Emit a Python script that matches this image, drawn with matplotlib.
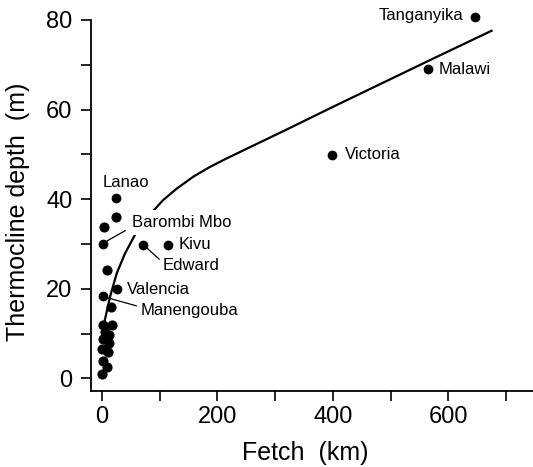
import matplotlib.pyplot as plt

plt.rcParams['font.family'] = ['Liberation Sans', 'DejaVu Sans']

# small unnamed lakes (fetch km, thermocline depth m)
fetch_km = [0, 9, 1, 0, 11, 12, 2, 12, 5, 2, 17, 16, 9, 3, 25]
depth_m = [1, 2.5, 3.8, 6.5, 5.8, 8, 8.8, 9.8, 10.4, 12, 12, 16, 24.3, 33.8, 36.1]

# named lakes
lake_names = ['Tanganyika', 'Malawi', 'Victoria', 'Kivu', 'Edward',
              'Lanao', 'Barombi Mbo', 'Valencia', 'Manengouba']
lake_fetch = [646, 564, 398, 114, 72, 24, 1, 26, 1]
lake_depth = [80.7, 69, 49.9, 29.8, 29.8, 40.3, 30.1, 19.9, 18.3]

# fitted relation
curve_fetch = [3, 5, 14, 25.5, 40, 60, 75, 89, 106, 129, 158, 187, 216,
               245, 274, 308, 343, 400, 458, 574, 675]
curve_depth = [8.5, 13, 18.2, 23.4, 27.9, 32.7, 35.3, 37.4, 39.8, 42.3, 45.0,
               47.2, 49.1, 50.9, 52.7, 54.8, 57.0, 60.6, 64.2, 71.4, 77.6]

x_ticks = [0, 100, 200, 300, 400, 500, 600, 700]
x_ticklabels = ['0', '', '200', '', '400', '', '600', '']
y_ticks = [0, 10, 20, 30, 40, 50, 60, 70, 80]
y_ticklabels = ['0', '', '20', '', '40', '', '60', '', '80']

fig = plt.figure(figsize=(5.33, 4.67), dpi=100)
ax = fig.add_axes([0.170, 0.1638, 0.830, 0.7934])

ax.plot(curve_fetch, curve_depth, color='black', lw=1.6, zorder=2,
        solid_joinstyle='round')
ax.plot(fetch_km, depth_m, 'o', color='black', ms=6.3, zorder=3, clip_on=False)
ax.plot(lake_fetch, lake_depth, 'o', color='black', ms=6.0, zorder=3, clip_on=False)

fs = 12
# label placement: (text x, text y, ha)
text_pos = {
    'Tanganyika': (626, 80.9, 'right'),
    'Malawi': (583, 69.0, 'left'),
    'Victoria': (421, 49.9, 'left'),
    'Kivu': (132, 29.8, 'left'),
    'Lanao': (42, 43.8, 'center'),
    'Valencia': (43, 19.9, 'left'),
}
for name, px, py in zip(lake_names, lake_fetch, lake_depth):
    if name in text_pos:
        tx, ty, ha = text_pos[name]
        ax.text(tx, ty, name, fontsize=fs, ha=ha, va='center', zorder=4)

# labels with leader lines
leaders = {
    'Barombi Mbo': (51.4, 34.8, (0.0, 0.2)),
    'Edward': (106, 25.3, (0.0, 0.65)),
    'Manengouba': (67, 15.1, (0.0, 0.75)),
}
for name, px, py in zip(lake_names, lake_fetch, lake_depth):
    if name in leaders:
        tx, ty, rel = leaders[name]
        bbox = None
        if name == 'Barombi Mbo':
            bbox = dict(boxstyle='square,pad=0.3', fc='white', ec='none')
        ax.annotate(name, xy=(px, py), xytext=(tx, ty), fontsize=fs,
                    ha='left', va='center', zorder=4, bbox=bbox,
                    arrowprops=dict(arrowstyle='-', color='black', lw=0.9,
                                    relpos=rel, shrinkA=1, shrinkB=3.5))

ax.set_xlim(-19.6, 746.7)
ax.set_ylim(-2.7, 80)
ax.set_xticks(x_ticks)
ax.set_xticklabels(x_ticklabels)
ax.set_yticks(y_ticks)
ax.set_yticklabels(y_ticklabels)

for side in ['top', 'right']:
    ax.spines[side].set_visible(False)
for side in ['left', 'bottom']:
    ax.spines[side].set_linewidth(1.3)
ax.tick_params(direction='out', length=7, width=1.2, labelsize=17)
ax.tick_params(axis='y', pad=6)
ax.tick_params(axis='x', pad=4)

ax.set_xlabel('Fetch  (km)', fontsize=18, va='center')
ax.xaxis.set_label_coords(0.4845, -0.169)
ax.set_ylabel('Thermocline depth  (m)', fontsize=18, va='center', ha='center')
ax.yaxis.set_label_coords(-0.164, 0.482)

fig.savefig('out.png', dpi=100)
